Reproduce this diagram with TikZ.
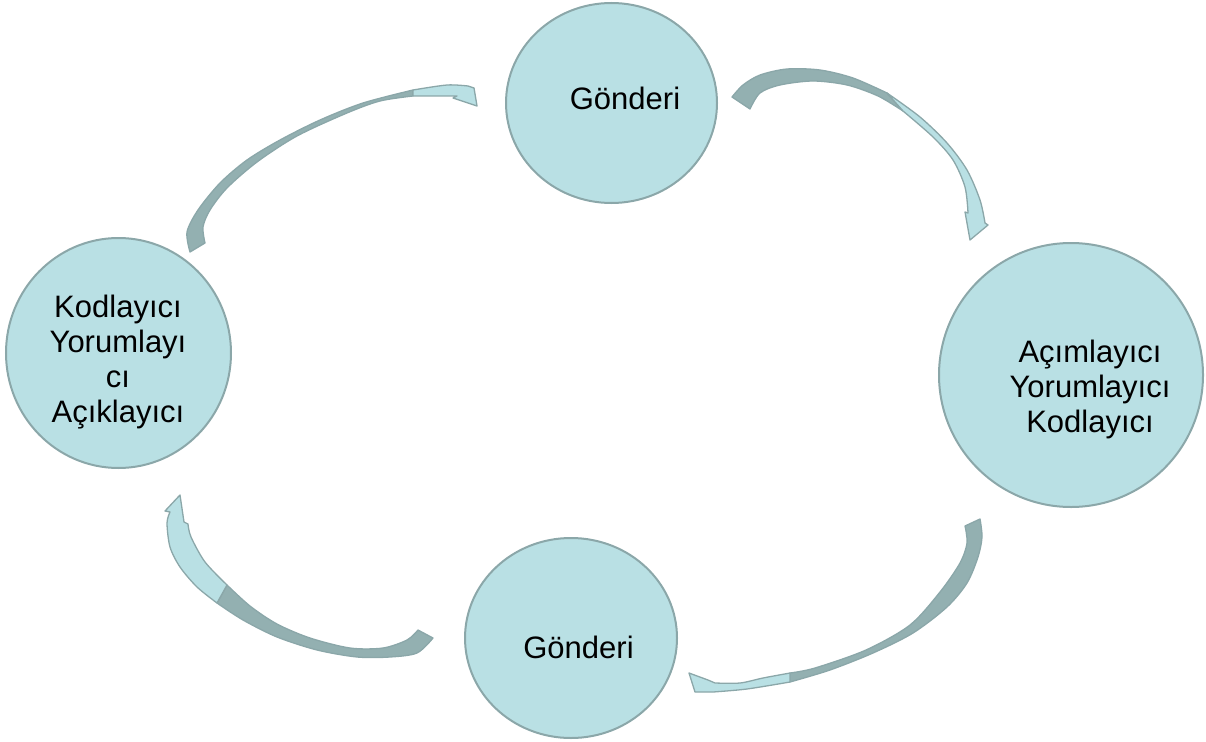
\documentclass[tikz,border=0pt]{standalone}
\usepackage{fontspec}
\setmainfont{Liberation Sans}
\usetikzlibrary{shapes.geometric}
\definecolor{cfill}{HTML}{B9E0E4}
\definecolor{cline}{HTML}{8BA7A9}
\definecolor{adark}{HTML}{93B0B1}
\begin{document}
\begin{tikzpicture}[x=1pt,y=-1pt,
  circ/.style={ellipse, draw=cline, line width=2pt, fill=cfill, inner sep=0pt},
  lbl/.style={font=\fontsize{31}{35.3}\selectfont, align=center, inner sep=0pt},
  darkpart/.style={fill=adark, draw=cline, line width=1.3pt, line join=round},
  lightpart/.style={fill=cfill, draw=cline, line width=1.3pt, line join=round}]
\useasboundingbox (0,0) rectangle (1206,741);

% circles
\node[circ, minimum width=211pt, minimum height=200pt] (top) at (611.5,103) {};
\node[circ, minimum width=264pt, minimum height=264pt] (right) at (1071,375) {};
\node[circ, minimum width=212pt, minimum height=200pt] (bottom) at (571,638) {};
\node[circ, minimum width=225pt, minimum height=230pt] (left) at (118.5,353) {};

% labels
\node[lbl, anchor=base] (ttop) at (625,110) {Gönderi};
\node[lbl, anchor=base] (tbottom) at (578.5,658) {Gönderi};
\node[lbl] (tright) at (1090,389.5) {Açımlayıcı\\Yorumlayıcı\\Kodlayıcı};
\node[lbl] (tleft) at (118,362) {Kodlayıcı\\Yorumlayı\\cı\\Açıklayıcı};

% arrow 1: left -> top
\path[darkpart] plot[smooth] coordinates {(190,252) (187,232) (198,210) (220,183) (247,160) (280,140) (320,120) (363,103) (413,90)}
  -- plot[smooth] coordinates {(413,96) (380,101) (347,113) (297,136) (257,162) (227,188) (210,210) (203,227) (205,243)} -- cycle;
\path[lightpart] plot[smooth] coordinates {(413,90) (447,85) (468,86)} -- (474,88) -- (477,106) -- (453,98)
  -- plot[smooth] coordinates {(457,96) (435,96) (413,96)} -- cycle;

% arrow 2: top -> right
\path[darkpart] plot[smooth] coordinates {(732,97) (743,85) (760,75) (787,69) (820,70) (853,78) (887,93)}
  -- plot[smooth] coordinates {(903,111) (878,96) (847,85) (813,81) (780,85) (760,93) (750,109)} -- cycle;
\path[lightpart] plot[smooth] coordinates {(887,93) (920,117) (947,143) (967,170) (980,200) (985,223)} -- (988,225) -- (970,240) -- (965,212)
  -- plot[smooth] coordinates {(968,213) (965,187) (953,160) (933,137) (903,111)} -- cycle;

% arrow 3: right -> bottom
\path[darkpart] plot[smooth] coordinates {(980,519) (982,537) (978,557) (967,583) (947,607) (913,633) (873,653) (830,670) (790,682)}
  -- plot[smooth] coordinates {(790,673) (815,668) (866,650) (910,625) (940,592) (960,563) (967,543) (965,526)} -- cycle;
\path[lightpart] plot[smooth] coordinates {(790,682) (747,689) (713,692)} -- (695,692) -- (689,673) -- (708,680)
  -- plot[smooth] coordinates {(715,683) (740,683) (763,678) (790,673)} -- cycle;

% arrow 4: bottom -> left
\path[darkpart] plot[smooth] coordinates {(433,638) (417,653) (390,657) (357,657) (317,650) (277,637) (243,620) (217,603)}
  -- plot[smooth] coordinates {(227,585) (250,606) (277,624) (310,638) (350,648) (383,648) (407,640) (418,630)} -- cycle;
\path[lightpart] plot[smooth] coordinates {(217,603) (197,587) (180,567) (170,547) (167,523) (170,512)} -- (165,511) -- (180,495) -- (184,522)
  -- plot[smooth] coordinates {(188,524) (191,537) (205,562) (227,585)} -- cycle;
\end{tikzpicture}
\end{document}
